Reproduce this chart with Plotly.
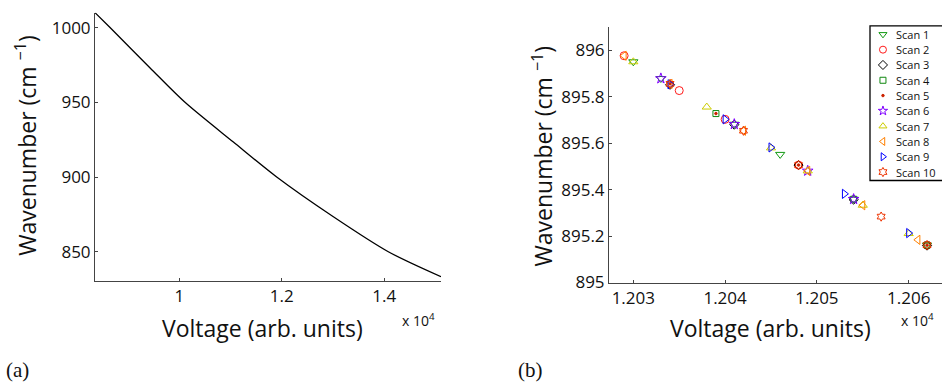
import plotly.graph_objects as go

W, H = 942, 391

# ---- panel (a): calibration curve ----
calib_voltage = [8355, 8648, 9430, 10111, 11055, 11900, 13006, 14078, 15106]
calib_wavenumber = [1010.0, 1000.0, 973.0, 950.0, 923.4, 900.0, 873.4, 850.0, 833.3]

a_xticks = [10000, 12000, 14000]
a_xticklabels = ["1", "1.2", "1.4"]
a_yticks = [850, 900, 950, 1000]
a_yticklabels = ["850", "900", "950", "1000"]

# ---- panel (b): repeated scans ----
scan_names = ["Scan 1", "Scan 2", "Scan 3", "Scan 4", "Scan 5",
              "Scan 6", "Scan 7", "Scan 8", "Scan 9", "Scan 10"]
scan_voltage = [
    [12030, 12033, 12041, 12046, 12054, 12062],
    [12029, 12035, 12040, 12048, 12062],
    [12034, 12041, 12048, 12054, 12062],
    [12039, 12054, 12062],
    [12034, 12039, 12048, 12062],
    [12033, 12041, 12049, 12054],
    [12030, 12038, 12045, 12049, 12055, 12060],
    [12029, 12034, 12042, 12049, 12055, 12061],
    [12034, 12040, 12045, 12053, 12060],
    [12034, 12042, 12048, 12057, 12062],
]
scan_wavenumber = [
    [895.951, 895.879, 895.682, 895.552, 895.359, 895.161],
    [895.977, 895.827, 895.703, 895.506, 895.161],
    [895.852, 895.680, 895.506, 895.357, 895.159],
    [895.728, 895.359, 895.161],
    [895.856, 895.728, 895.506, 895.161],
    [895.879, 895.682, 895.481, 895.359],
    [895.951, 895.756, 895.580, 895.481, 895.333, 895.211],
    [895.977, 895.856, 895.654, 895.481, 895.333, 895.184],
    [895.854, 895.703, 895.582, 895.382, 895.213],
    [895.856, 895.654, 895.506, 895.284, 895.161],
]
b_xticks = [12030, 12040, 12050, 12060]
b_xticklabels = ["1.203", "1.204", "1.205", "1.206"]
b_yticks = [895.0, 895.2, 895.4, 895.6, 895.8, 896.0]
b_yticklabels = ["895", "895.2", "895.4", "895.6", "895.8", "896"]

scan_symbols = ["triangle-down-open", "circle-open", "diamond-open", "square-open",
                "circle", "star-open", "triangle-up-open", "triangle-left-open",
                "triangle-right-open", "hexagram-open"]
scan_colors = ["#119911", "#ff1a1a", "#000000", "#118811", "#cc2200",
               "#7f00ff", "#cccc00", "#ff8000", "#0000ff", "#ee3300"]
scan_sizes = [8, 8, 7, 6, 2.5, 8, 8, 8, 8, 7]

FONT = "Open Sans"
AXIS_COLOR = "#444444"


def px_x(p):
    return p / W


def px_y(p):
    return 1 - p / H


fig = go.Figure()

fig.add_trace(go.Scatter(
    x=calib_voltage, y=calib_wavenumber, mode="lines",
    line=dict(color="black", width=1.3, shape="spline", smoothing=0.8),
    showlegend=False, xaxis="x", yaxis="y"))

for name, vx, wy, sym, col, sz in zip(scan_names, scan_voltage, scan_wavenumber,
                                       scan_symbols, scan_colors, scan_sizes):
    fig.add_trace(go.Scatter(
        x=vx, y=wy, mode="markers", name=name, showlegend=False,
        marker=dict(symbol=sym, color=col, size=sz, line=dict(color=col, width=1)),
        xaxis="x2", yaxis="y2"))

# legend box drawn on its own small axes
for i, (name, sym, col, sz) in enumerate(zip(scan_names, scan_symbols, scan_colors, scan_sizes)):
    fig.add_trace(go.Scatter(
        x=[0.18], y=[i + 1], mode="markers", showlegend=False,
        marker=dict(symbol=sym, color=col, size=min(sz, 7) if sz > 3 else 2.5,
                    line=dict(color=col, width=1)),
        xaxis="x3", yaxis="y3"))

axis_common = dict(showgrid=False, zeroline=False, showline=True, linecolor=AXIS_COLOR,
                   linewidth=1, ticks="inside", ticklen=3, tickcolor=AXIS_COLOR,
                   tickfont=dict(family=FONT, size=17, color="#111111"))

fig.update_layout(
    width=W, height=H, margin=dict(l=0, r=0, t=0, b=0),
    paper_bgcolor="white", plot_bgcolor="white",
    xaxis=dict(domain=[px_x(95), px_x(441)], range=[8355, 15106], anchor="y",
               tickvals=a_xticks, ticktext=a_xticklabels, **axis_common),
    yaxis=dict(domain=[px_y(289), px_y(13)], range=[830.5, 1010], anchor="x",
               tickvals=a_yticks, ticktext=a_yticklabels, **axis_common),
    xaxis2=dict(domain=[px_x(609), 1.0], range=[12027.35, 12063.63], anchor="y2",
                tickvals=b_xticks, ticktext=b_xticklabels, **axis_common),
    yaxis2=dict(domain=[px_y(290.7), px_y(28)], range=[895.0, 896.1], anchor="x2",
                tickvals=b_yticks, ticktext=b_yticklabels, **axis_common),
    xaxis3=dict(domain=[px_x(870), 1.0], range=[0, 1], visible=False, anchor="y3"),
    yaxis3=dict(domain=[px_y(185.7), px_y(26.7)], range=[10.55, 0.45], visible=False,
                anchor="x3"),
)
fig.update_xaxes(tickangle=0)

# legend frame (right side runs past the page edge)
fig.add_shape(type="rect", xref="paper", yref="paper",
              x0=px_x(870), x1=1.05, y0=px_y(185.7), y1=px_y(26.7),
              line=dict(color="black", width=1.3), fillcolor="rgba(0,0,0,0)")

for i, name in enumerate(scan_names):
    fig.add_annotation(x=0.34, y=i + 1, xref="x3", yref="y3", text=name,
                       showarrow=False, xanchor="left", yanchor="middle",
                       font=dict(family=FONT, size=11, color="#111111"))

title_font = dict(family=FONT, size=23, color="#111111")
ytitle = "Wavenumber (cm <sup>\u22121</sup>)"
xtitle = "Voltage (arb. units)"

fig.add_annotation(x=px_x(262), y=px_y(337), xref="paper", yref="paper", text=xtitle,
                   showarrow=False, xanchor="center", yanchor="middle", font=title_font)
fig.add_annotation(x=px_x(770), y=px_y(338), xref="paper", yref="paper", text=xtitle,
                   showarrow=False, xanchor="center", yanchor="middle", font=title_font)
fig.add_annotation(x=px_x(26), y=px_y(150), xref="paper", yref="paper", text=ytitle,
                   showarrow=False, textangle=-90, xanchor="center", yanchor="middle",
                   font=title_font)
fig.add_annotation(x=px_x(543), y=px_y(161), xref="paper", yref="paper", text=ytitle,
                   showarrow=False, textangle=-90, xanchor="center", yanchor="middle",
                   font=title_font)

exp_font = dict(family=FONT, size=14, color="#111111")
fig.add_annotation(x=px_x(418), y=px_y(329), xref="paper", yref="paper",
                   text="x 10<sup>4</sup>", showarrow=False, xanchor="center",
                   yanchor="middle", font=exp_font)
fig.add_annotation(x=px_x(899), y=px_y(329), xref="paper", yref="paper",
                   text="x 10<sup>4</sup>", showarrow=False, xanchor="left",
                   yanchor="middle", font=exp_font)

panel_font = dict(family="Liberation Serif", size=21, color="#111111")
fig.add_annotation(x=px_x(4), y=px_y(381), xref="paper", yref="paper", text="(a)",
                   showarrow=False, xanchor="left", yanchor="middle", font=panel_font)
fig.add_annotation(x=px_x(516), y=px_y(381), xref="paper", yref="paper", text="(b)",
                   showarrow=False, xanchor="left", yanchor="middle", font=panel_font)

fig.write_html("out.html")
